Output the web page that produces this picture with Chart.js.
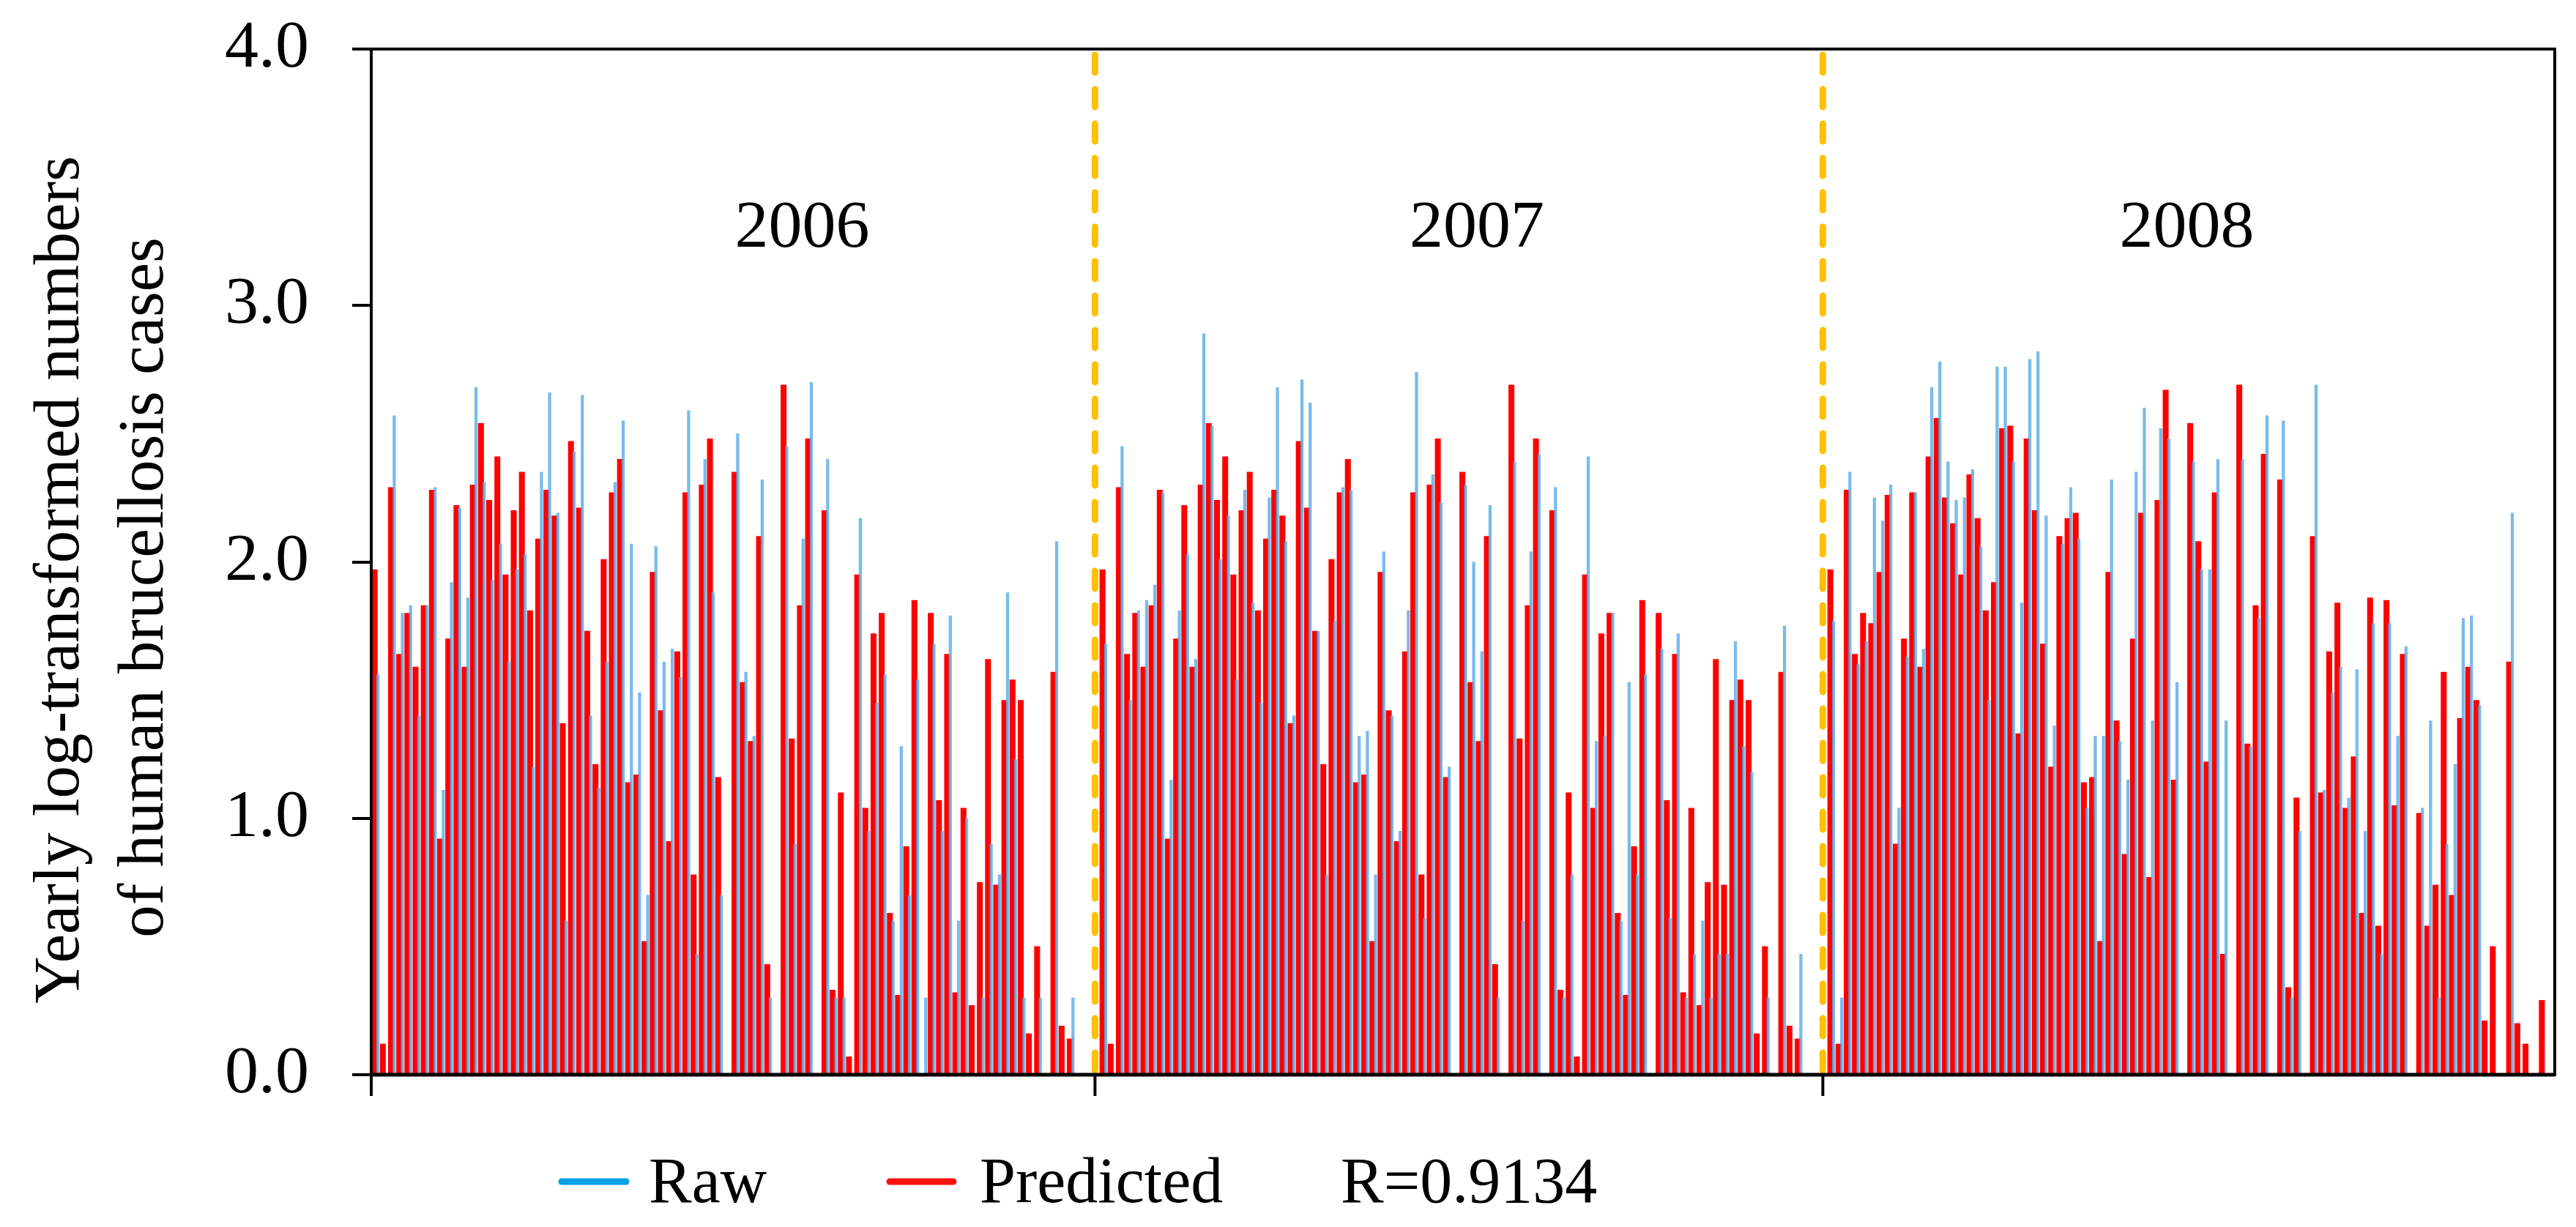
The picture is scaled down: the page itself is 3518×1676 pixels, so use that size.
<!DOCTYPE html>
<html>
<head>
<meta charset="utf-8">
<title>Raw vs predicted brucellosis cases</title>
<script src="https://cdn.jsdelivr.net/npm/chart.js@4.4.1/dist/chart.umd.min.js"></script>
<style>
  html, body { margin: 0; padding: 0; background: #fff; overflow: hidden; }
  canvas { display: block; }
</style>
</head>
<body>
<canvas id="chart" width="3518" height="1676"></canvas>
<script>
// values, one bar per county slot, 89 slots per year
const years = ['2006', '2007', '2008'];
const yTicks = [0, 1, 2, 3, 4];
const yTitle = ['Yearly log-transformed numbers', 'of human brucellosis cases'];
const legendLabels = ['Raw', 'Predicted', 'R=0.9134'];

const raw2006 = [
    1.56, 0.00, 2.57, 1.80, 1.83, 1.40, 1.83, 2.29, 1.11, 1.92,
    2.21, 1.86, 2.68, 2.31, 1.93, 2.07, 1.61, 1.97, 2.03, 1.20,
    2.35, 2.66, 2.19, 0.60, 2.43, 2.65, 1.40, 1.12, 1.61, 2.31,
    2.55, 2.07, 1.49, 0.70, 2.06, 1.61, 1.66, 1.55, 2.59, 0.47,
    2.40, 1.88, 0.70, 0.00, 2.50, 1.57, 1.32, 2.32, 0.30, 0.00,
    2.45, 0.90, 2.09, 2.70, 0.00, 2.40, 0.30, 0.30, 0.00, 2.17,
    0.95, 1.45, 1.56, 0.60, 1.28, 0.70, 1.54, 0.30, 1.68, 0.95,
    1.79, 0.60, 1.00, 0.00, 0.30, 0.90, 0.78, 1.88, 1.23, 0.30,
    0.00, 0.30, 0.00, 2.08, 0.00, 0.30, 0.00, 0.00, 0.00
];
const pred2006 = [
    1.97, 0.12, 2.29, 1.64, 1.80, 1.59, 1.83, 2.28, 0.92, 1.70,
    2.22, 1.59, 2.30, 2.54, 2.24, 2.41, 1.95, 2.20, 2.35, 1.81,
    2.09, 2.28, 2.18, 1.37, 2.47, 2.21, 1.73, 1.21, 2.01, 2.27,
    2.40, 1.14, 1.17, 0.52, 1.96, 1.42, 0.91, 1.65, 2.27, 0.78,
    2.30, 2.48, 1.16, 0.00, 2.35, 1.53, 1.30, 2.10, 0.43, 0.00,
    2.69, 1.31, 1.83, 2.48, 0.00, 2.20, 0.33, 1.10, 0.07, 1.95,
    1.04, 1.72, 1.80, 0.63, 0.31, 0.89, 1.85, 0.00, 1.80, 1.07,
    1.64, 0.32, 1.04, 0.27, 0.75, 1.62, 0.74, 1.46, 1.54, 1.46,
    0.16, 0.50, 0.00, 1.57, 0.19, 0.14, 0.00, 0.00, 0.00
];
const raw2007 = [
    1.68, 0.00, 2.45, 1.46, 1.81, 1.85, 1.91, 2.27, 1.15, 1.81,
    2.03, 1.62, 2.89, 2.53, 2.01, 2.18, 1.54, 2.28, 1.84, 1.45,
    2.25, 2.68, 2.08, 1.40, 2.71, 2.62, 1.73, 0.78, 1.77, 2.29,
    2.28, 1.32, 1.34, 0.78, 2.04, 1.40, 0.95, 1.81, 2.74, 0.61,
    2.34, 2.23, 1.20, 0.00, 2.30, 2.00, 1.65, 2.22, 0.30, 0.00,
    2.39, 0.60, 2.04, 2.42, 0.00, 2.29, 0.30, 0.78, 0.00, 2.41,
    1.30, 1.32, 1.80, 0.60, 1.53, 0.78, 1.56, 0.00, 1.66, 0.61,
    1.72, 0.30, 0.47, 0.60, 0.30, 0.47, 0.47, 1.69, 1.28, 1.18,
    0.00, 0.30, 0.00, 1.75, 0.00, 0.47, 0.00, 0.00, 0.00
];
const pred2007 = [
    1.97, 0.12, 2.29, 1.64, 1.80, 1.59, 1.83, 2.28, 0.92, 1.70,
    2.22, 1.59, 2.30, 2.54, 2.24, 2.41, 1.95, 2.20, 2.35, 1.81,
    2.09, 2.28, 2.18, 1.37, 2.47, 2.21, 1.73, 1.21, 2.01, 2.27,
    2.40, 1.14, 1.17, 0.52, 1.96, 1.42, 0.91, 1.65, 2.27, 0.78,
    2.30, 2.48, 1.16, 0.00, 2.35, 1.53, 1.30, 2.10, 0.43, 0.00,
    2.69, 1.31, 1.83, 2.48, 0.00, 2.20, 0.33, 1.10, 0.07, 1.95,
    1.04, 1.72, 1.80, 0.63, 0.31, 0.89, 1.85, 0.00, 1.80, 1.07,
    1.64, 0.32, 1.04, 0.27, 0.75, 1.62, 0.74, 1.46, 1.54, 1.46,
    0.16, 0.50, 0.00, 1.57, 0.19, 0.14, 0.00, 0.00, 0.00
];
const raw2008 = [
    1.77, 0.30, 2.35, 1.60, 1.69, 2.25, 2.16, 2.30, 1.04, 1.63,
    2.27, 1.66, 2.68, 2.78, 2.39, 2.24, 2.25, 2.36, 2.06, 1.46,
    2.76, 2.76, 2.39, 1.84, 2.79, 2.82, 2.18, 1.36, 2.07, 2.29,
    2.09, 1.04, 1.32, 1.32, 2.32, 1.30, 1.15, 2.35, 2.60, 1.38,
    2.52, 2.48, 1.53, 0.00, 2.39, 1.97, 1.97, 2.40, 1.38, 0.00,
    2.40, 1.28, 1.78, 2.57, 0.00, 2.55, 0.30, 0.95, 0.00, 2.69,
    1.11, 1.49, 1.59, 1.08, 1.58, 0.95, 1.76, 0.47, 1.76, 1.32,
    1.67, 0.00, 1.04, 1.38, 0.30, 0.90, 1.21, 1.78, 1.79, 1.44,
    0.00, 0.00, 0.00, 2.19, 0.00, 0.00, 0.00, 0.00, 0.00
];
const pred2008 = [
    1.97, 0.12, 2.28, 1.64, 1.80, 1.76, 1.96, 2.26, 0.90, 1.70,
    2.27, 1.59, 2.41, 2.56, 2.25, 2.15, 1.95, 2.34, 2.17, 1.81,
    1.92, 2.52, 2.53, 1.33, 2.48, 2.20, 1.68, 1.20, 2.10, 2.17,
    2.19, 1.14, 1.16, 0.52, 1.96, 1.38, 0.86, 1.70, 2.19, 0.77,
    2.24, 2.67, 1.15, 0.00, 2.54, 2.08, 1.22, 2.27, 0.47, 0.00,
    2.69, 1.29, 1.83, 2.42, 0.00, 2.32, 0.34, 1.08, 0.00, 2.10,
    1.10, 1.65, 1.84, 1.04, 1.24, 0.63, 1.86, 0.58, 1.85, 1.05,
    1.64, 0.00, 1.02, 0.58, 0.74, 1.57, 0.70, 1.39, 1.59, 1.46,
    0.21, 0.50, 0.00, 1.61, 0.20, 0.12, 0.00, 0.29, 0.00
];

const rawByYear = [raw2006, raw2007, raw2008];
const predByYear = [pred2006, pred2007, pred2008];
const perYear = raw2006.length;
const slots = perYear * years.length;

const FONT = "'Liberation Serif', 'Times New Roman', serif";
const RED = '#ff0000';
const BLUE = 'rgba(86, 170, 230, 0.8)';

// one point per slot, slot index on x
function toPoints(byYear) {
    const pts = [];
    byYear.forEach((vals, k) => {
        vals.forEach((v, i) => pts.push({ x: k * perYear + i, y: v }));
    });
    return pts;
}

// frame, year dividers, year labels, y title and legend
const decorations = {
    id: 'decorations',
    afterDatasetsDraw(chart) {
        const { ctx, chartArea: a, scales } = chart;
        const slotW = a.width / slots;
        const line = (x1, y1, x2, y2) => {
            ctx.beginPath();
            ctx.moveTo(x1, y1);
            ctx.lineTo(x2, y2);
            ctx.stroke();
        };
        ctx.save();

        // dashed year dividers through the empty last slot of each year
        const dividers = [];
        for (let k = 1; k < years.length; k++) dividers.push(a.left + (k * perYear - 0.5) * slotW);
        ctx.strokeStyle = '#ffc000';
        ctx.lineWidth = 9;
        ctx.lineCap = 'round';
        ctx.setLineDash([24, 23]);
        dividers.forEach(x => line(x, a.top + 8, x, a.bottom - 4));

        // box round the plot
        ctx.setLineDash([]);
        ctx.lineCap = 'butt';
        ctx.strokeStyle = '#000';
        ctx.lineWidth = 4;
        ctx.strokeRect(a.left, a.top, a.width, a.height);
        ctx.lineWidth = 5;
        line(a.left, a.bottom, a.right, a.bottom);
        ctx.lineWidth = 4;
        [a.left].concat(dividers).forEach(x => line(x, a.bottom, x, a.bottom + 29));

        // year labels
        const labelSlot = [52.7, 135.2, 222.0];
        ctx.fillStyle = '#000';
        ctx.font = '92px ' + FONT;
        ctx.textAlign = 'center';
        ctx.textBaseline = 'alphabetic';
        years.forEach((y, k) => {
            ctx.fillText(y, a.left + labelSlot[k] * slotW, scales.y.getPixelForValue(3.23));
        });

        // y axis title, two lines
        ctx.font = '89px ' + FONT;
        const centres = [1.93, 1.90];
        [107, 222].forEach((bx, i) => {
            ctx.save();
            ctx.translate(bx, scales.y.getPixelForValue(centres[i]));
            ctx.rotate(-Math.PI / 2);
            ctx.fillText(yTitle[i], 0, 0);
            ctx.restore();
        });

        // legend under the axis
        const ly = a.bottom + 146;
        const tb = a.bottom + 174;
        ctx.lineWidth = 9;
        ctx.lineCap = 'round';
        ctx.strokeStyle = '#00a0e4';
        line(767, ly, 855, ly);
        ctx.strokeStyle = '#ff1010';
        line(1215, ly, 1302, ly);
        ctx.font = '88px ' + FONT;
        ctx.textAlign = 'left';
        ctx.fillText(legendLabels[0], 886, tb);
        ctx.fillText(legendLabels[1], 1338, tb);
        ctx.fillText(legendLabels[2], 1831, tb);

        ctx.restore();
    }
};

new Chart(document.getElementById('chart'), {
    type: 'bar',
    data: {
        datasets: [
            {
                label: 'Raw',
                data: toPoints(rawByYear),
                xAxisID: 'xb',
                backgroundColor: BLUE,
                barThickness: 3.6,
                grouped: false
            },
            {
                label: 'Predicted',
                data: toPoints(predByYear),
                xAxisID: 'xr',
                backgroundColor: RED,
                barThickness: 7.4,
                grouped: false
            }
        ]
    },
    options: {
        responsive: false,
        devicePixelRatio: 1,
        animation: false,
        layout: { padding: { left: 0, top: 67, right: 29, bottom: 208 } },
        plugins: {
            legend: { display: false },
            tooltip: { enabled: false }
        },
        scales: {
            xr: {
                type: 'linear',
                axis: 'x',
                display: false,
                offset: false,
                min: -0.42,
                max: slots - 0.42
            },
            xb: {
                type: 'linear',
                axis: 'x',
                display: false,
                offset: false,
                min: -0.81,
                max: slots - 0.81
            },
            y: {
                type: 'linear',
                position: 'left',
                min: yTicks[0],
                max: yTicks[yTicks.length - 1],
                afterFit(scale) {
                    // fixed gutter, and no extra room for the end labels
                    scale.width = 507;
                    scale.paddingTop = 0;
                    scale.paddingBottom = 0;
                },
                afterBuildTicks(scale) { scale.ticks = yTicks.map(v => ({ value: v })); },
                ticks: {
                    color: '#000',
                    padding: 59,
                    font: { family: FONT, size: 92 },
                    callback: v => v.toFixed(1)
                },
                grid: {
                    drawOnChartArea: false,
                    drawTicks: true,
                    tickLength: 26,
                    color: '#000',
                    lineWidth: 4
                },
                border: { display: true, color: '#000', width: 4 }
            }
        }
    },
    plugins: [decorations]
});
</script>
</body>
</html>
